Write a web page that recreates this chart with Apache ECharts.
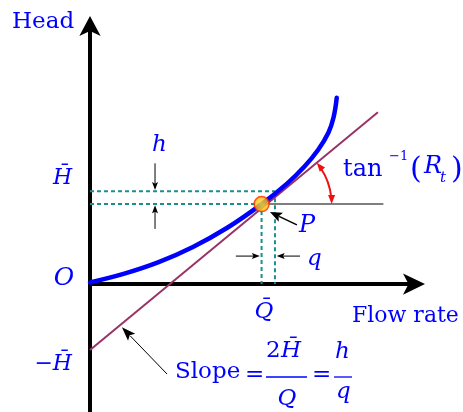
<!DOCTYPE html>
<html>
<head>
<meta charset="utf-8">
<script src="https://cdn.jsdelivr.net/npm/echarts@6/dist/echarts.min.js"></script>
<style>
  html, body { margin: 0; padding: 0; background: #fff; }
  #chart { width: 463px; height: 412px; }
</style>
</head>
<body>
<div id="chart"></div>
<script>
// Pump characteristic (head vs flow rate) linearised about the operating point P.

// axis ranges
const flowMax = 19;
const headMin = -16;
const headMax = 32.4;

// pump curve
const curveFlow = [0, 2, 4, 6, 8, 10, 11.5, 12.5, 13.3, 13.9, 14.2, 14.38];
const curveHead = [0.2, 1.3, 2.74, 4.64, 7.04, 10, 12.6, 14.7, 16.8, 18.95, 20.9, 23.3];

// tangent through P
const tangentFlow = [0, 16.78];
const tangentHead = [-8.25, 21.5];

// operating point (Q̄, H̄) and small perturbations (q, h)
const opFlow = 10;
const opHead = 10;
const dFlow = 0.78;
const dHead = 1.6;
const refLineEnd = 17.1;

// annotation arrows: [fromFlow, fromHead, toFlow, toHead]
const hArrows = [[3.79, 15.1, 3.79, 11.75], [3.79, 6.9, 3.79, 9.85]];
const qArrows = [[8.5, 3.5, 9.9, 3.5], [12.24, 3.5, 10.88, 3.5]];
const pArrow = [[12.06, 7.4, 10.49, 9.0]];
const slopeArrow = [[4.49, -11.25, 1.86, -5.4]];

const BLUE = '#0000ff';
const TEAL = '#1a8f8f';
const SERIF = '"DejaVu Serif", serif';

const pair = (xs, ys) => xs.map((x, i) => [x, ys[i]]);

// flow at which the tangent crosses the horizontal through P
const tanSlope = (tangentHead[1] - tangentHead[0]) / (tangentFlow[1] - tangentFlow[0]);
const angleVertexFlow = tangentFlow[0] + (opHead - tangentHead[0]) / tanSlope;

function arrowRenderer(headLen, headW, lw) {
  return function (params, api) {
    const a = api.coord([api.value(0), api.value(1)]);
    const b = api.coord([api.value(2), api.value(3)]);
    const dx = b[0] - a[0], dy = b[1] - a[1];
    const len = Math.hypot(dx, dy);
    const ux = dx / len, uy = dy / len;
    const bx = b[0] - ux * headLen, by = b[1] - uy * headLen;
    const nx = -uy * headW / 2, ny = ux * headW / 2;
    return {
      type: 'group',
      children: [
        { type: 'line', shape: { x1: a[0], y1: a[1], x2: bx + ux * 2, y2: by + uy * 2 },
          style: { stroke: '#000', lineWidth: lw } },
        { type: 'polygon',
          shape: { points: [[b[0], b[1]], [bx + nx, by + ny],
                            [bx + ux * headLen * 0.2, by + uy * headLen * 0.2], [bx - nx, by - ny]] },
          style: { fill: '#000' } }
      ]
    };
  };
}

function arrowSeries(data, headLen, headW, lw) {
  return {
    type: 'custom', data: data, encode: { x: [0, 2], y: [1, 3] },
    renderItem: arrowRenderer(headLen, headW, lw), clip: false, silent: true, z: 6
  };
}

function dashed(points) {
  return {
    type: 'line', data: points, symbol: 'none', silent: true, z: 2,
    lineStyle: { color: TEAL, width: 2, type: [4, 3] }
  };
}

// angle marker between tangent and horizontal
function angleRenderer(params, api) {
  const c = api.coord([api.value(0), api.value(1)]);
  const t0 = api.coord([tangentFlow[0], tangentHead[0]]);
  const t1 = api.coord([tangentFlow[1], tangentHead[1]]);
  const ang = Math.atan2(t1[1] - t0[1], t1[0] - t0[0]);
  const r = 65, hl = 9, hw = 7;
  const d = hl / r;
  const color = '#ee1111';
  function head(phi, dir) {
    const tip = [c[0] + r * Math.cos(phi), c[1] + r * Math.sin(phi)];
    const ux = dir * -Math.sin(phi), uy = dir * Math.cos(phi);
    const bx = tip[0] - ux * hl, by = tip[1] - uy * hl;
    const nx = -uy * hw / 2, ny = ux * hw / 2;
    return { type: 'polygon', shape: { points: [tip, [bx + nx, by + ny], [bx - nx, by - ny]] },
             style: { fill: color } };
  }
  return {
    type: 'group',
    children: [
      { type: 'arc', shape: { cx: c[0], cy: c[1], r: r, startAngle: ang + d * 0.8, endAngle: -d * 0.8, clockwise: true },
        style: { stroke: color, lineWidth: 2, fill: null } },
      head(0, 1),
      head(ang, -1)
    ]
  };
}

function txt(text, x, y, size, opts) {
  opts = opts || {};
  const align = opts.align || 'left';
  return {
    type: 'text', x: x, y: y, z: 20, silent: true,
    style: {
      text: text,
      font: (opts.italic ? 'italic ' : '') + size + 'px ' + SERIF,
      fill: BLUE,
      align: align, textAlign: align,
      verticalAlign: 'middle', textVerticalAlign: 'middle'
    }
  };
}

function bar(x1, x2, y) {
  return { type: 'line', z: 20, silent: true,
           shape: { x1: x1, y1: y, x2: x2, y2: y }, style: { stroke: BLUE, lineWidth: 1.3 } };
}

const chart = echarts.init(document.getElementById('chart'), null, { renderer: 'canvas' });

chart.setOption({
  animation: false,
  backgroundColor: '#fff',
  grid: { left: 90, right: 47, top: 25, bottom: 0 },
  xAxis: {
    type: 'value', min: 0, max: flowMax,
    axisLine: { onZero: true, symbol: ['none', 'arrow'], symbolSize: [16, 22], symbolOffset: [0, 9],
                lineStyle: { color: '#000', width: 4 } },
    axisTick: { show: false }, axisLabel: { show: false }, splitLine: { show: false }
  },
  yAxis: {
    type: 'value', min: headMin, max: headMax,
    axisLine: { onZero: true, symbol: ['none', 'arrow'], symbolSize: [16, 20], symbolOffset: [0, 9],
                lineStyle: { color: '#000', width: 4 } },
    axisTick: { show: false }, axisLabel: { show: false }, splitLine: { show: false }
  },
  series: [
    dashed([[0, opHead], [opFlow, opHead]]),
    dashed([[0, opHead + dHead], [opFlow + dFlow, opHead + dHead]]),
    dashed([[opFlow, opHead], [opFlow, 0]]),
    dashed([[opFlow + dFlow, opHead + dHead], [opFlow + dFlow, 0]]),
    {
      type: 'line', data: [[opFlow, opHead], [refLineEnd, opHead]], symbol: 'none', silent: true, z: 2,
      lineStyle: { color: '#555', width: 1.5 }
    },
    {
      type: 'line', data: pair(tangentFlow, tangentHead), symbol: 'none', silent: true, z: 3,
      lineStyle: { color: '#993366', width: 2 }
    },
    {
      type: 'line', data: pair(curveFlow, curveHead), symbol: 'none', smooth: 0.4,
      silent: true, z: 4,
      lineStyle: { color: BLUE, width: 4.5, cap: 'round' }
    },
    {
      type: 'scatter', data: [[opFlow, opHead]], symbol: 'circle', symbolSize: 15, silent: true, z: 8,
      itemStyle: {
        color: { type: 'radial', x: 0.5, y: 0.5, r: 0.5,
                 colorStops: [{ offset: 0, color: '#ffee33' }, { offset: 1, color: '#ffaa00' }] },
        borderColor: '#ff2a00', borderWidth: 1.5
      }
    },
    {
      type: 'custom', data: [[angleVertexFlow, opHead]], renderItem: angleRenderer,
      clip: false, silent: true, z: 6
    },
    arrowSeries(hArrows, 8, 6, 1),
    arrowSeries(qArrows, 8, 6, 1),
    arrowSeries(pArrow, 12, 10, 1.5),
    arrowSeries(slopeArrow, 14, 10, 1)
  ],
  graphic: [
    txt('Head', 12, 22.5, 23),
    txt('Flow rate', 352, 316.5, 22),
    txt('O', 64, 278, 25, { italic: true, align: 'center' }),
    txt('H\u0304', 53, 178.5, 22, { italic: true }),
    txt('\u2212H\u0304', 72, 364, 22, { italic: true, align: 'right' }),
    txt('h', 152, 145, 23, { italic: true }),
    txt('P', 299, 226, 24, { italic: true }),
    txt('q', 307, 259, 23, { italic: true }),
    txt('Q\u0304', 264, 312, 23, { italic: true, align: 'center' }),
    // tan^-1(R_t)
    txt('tan', 343, 170, 24),
    txt('\u22121', 389, 156.5, 13),
    txt('(', 410, 170.5, 30),
    txt('R', 424, 166.5, 24, { italic: true }),
    txt('t', 440, 178, 15, { italic: true }),
    txt(')', 451, 170.5, 30),
    // Slope = 2H̄/Q = h/q
    txt('Slope', 175, 372, 23),
    txt('=', 245, 375.5, 23),
    txt('2', 266, 351, 23),
    txt('H\u0304', 281, 351, 23, { italic: true }),
    bar(266, 307, 377),
    txt('Q', 287, 399, 23, { italic: true, align: 'center' }),
    txt('=', 312, 375.5, 23),
    txt('h', 335, 352, 23, { italic: true }),
    bar(334, 352, 377),
    txt('q', 336, 392, 23, { italic: true })
  ]
});
</script>
</body>
</html>
